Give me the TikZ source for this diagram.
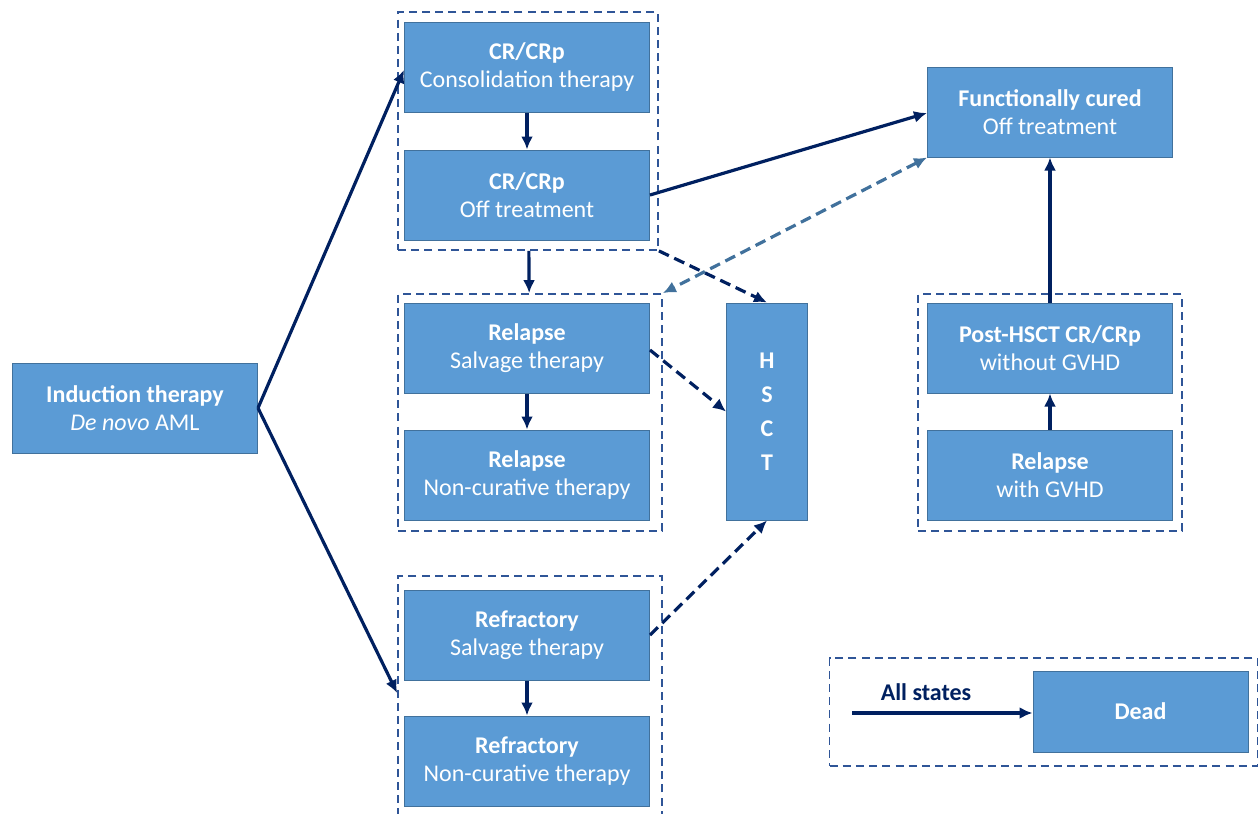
\documentclass[tikz,border=0pt]{standalone}
\usepackage{fontspec}
\setmainfont{Carlito}
\usetikzlibrary{arrows.meta}
\definecolor{boxfill}{HTML}{5B9BD5}
\definecolor{boxline}{HTML}{41719C}
\definecolor{navy}{HTML}{002060}
\definecolor{grpline}{HTML}{2F5597}
\definecolor{steel}{HTML}{41719C}

\begin{document}
\begin{tikzpicture}[x=0.5pt,y=-0.5pt,
    state/.style={rectangle,fill=boxfill,draw=boxline,line width=0.5pt,text=white,
        minimum width=122.5pt,minimum height=45pt,align=center,
        font=\fontsize{12}{14.2}\selectfont},
    group/.style={rectangle,draw=grpline,line width=0.9pt,dash pattern=on 4pt off 2.6pt},
    trans/.style={draw=navy,line width=1.6pt,-{Latex[length=6.5pt,width=6pt]}},
    dtrans/.style={trans,dash pattern=on 5.5pt off 3pt},
    back/.style={draw=steel,line width=1.6pt,dash pattern=on 5.5pt off 3pt,
        {Latex[length=6.5pt,width=6pt]}-{Latex[length=6.5pt,width=6pt]}}]
        \useasboundingbox (0,0) rectangle (1260,814);
        % dashed groups
        \node[group,minimum width=130pt,minimum height=119pt]   (g1) at (528,131) {};
        \node[group,minimum width=132pt,minimum height=118.5pt] (g2) at (530,412.5) {};
        \node[group,minimum width=132pt,minimum height=128pt]   (g3) at (530,704) {};
        \node[group,minimum width=132pt,minimum height=118.5pt] (g4) at (1050,412.5) {};
        \node[group,minimum width=214pt,minimum height=54pt]    (g5) at (1043.5,712) {};
        % states
        \node[state] (ind)  at (135,408)  {\textbf{Induction therapy}\\\textit{De novo} AML};
        \node[state] (crc)  at (527,67)   {\textbf{CR/CRp}\\Consolidation therapy};
        \node[state] (cro)  at (527,195)  {\textbf{CR/CRp}\\Off treatment};
        \node[state] (rels) at (527,348)  {\textbf{Relapse}\\Salvage therapy};
        \node[state] (reln) at (527,475)  {\textbf{Relapse}\\Non-curative therapy};
        \node[state] (refs) at (527,635)  {\textbf{Refractory}\\Salvage therapy};
        \node[state] (refn) at (527,761)  {\textbf{Refractory}\\Non-curative therapy};
        \node[state,minimum width=40.5pt,minimum height=108.5pt,
              font=\fontsize{12}{17}\selectfont\bfseries] (hsct) at (767,411.5) {H\\S\\C\\T};
        \node[state] (cure) at (1050,112) {\textbf{Functionally cured}\\Off treatment};
        \node[state] (post) at (1050,348) {\textbf{Post-HSCT CR/CRp}\\without GVHD};
        \node[state] (gvhd) at (1050,475) {\textbf{Relapse}\\with GVHD};
        \node[state,minimum width=107.5pt,minimum height=40.5pt,font=\fontsize{12}{14.2}\selectfont\bfseries]
              (dead) at (1140.5,711.5) {Dead};
        \coordinate (all) at (852,713);
        \node[text=navy,font=\fontsize{12}{14.2}\selectfont\bfseries] (alllab) at (926,692) {All states};
        % transitions
        \draw[trans] (ind.east) -- (crc.west |- 0,70);
        \draw[trans] (ind.east) -- (g3.west |- 0,693);
        \draw[trans] (crc) -- (cro);
        \draw[trans] (g1) -- (g2);
        \draw[trans] (rels) -- (reln);
        \draw[trans] (refs) -- (refn);
        \draw[trans] (cro.east) -- (cure.west |- 0,113);
        \draw[trans] (post) -- (cure);
        \draw[trans] (gvhd) -- (post);
        \draw[trans] (all) -- (dead.west |- all);
        \draw[dtrans] (g1.south east) -- (hsct.north);
        \draw[dtrans] (rels.east |- 0,350) -- (hsct.west);
        \draw[dtrans] (refs.east) -- (hsct.south);
        \draw[back] (cure.south west) -- (g2.north east);
\end{tikzpicture}
\end{document}
